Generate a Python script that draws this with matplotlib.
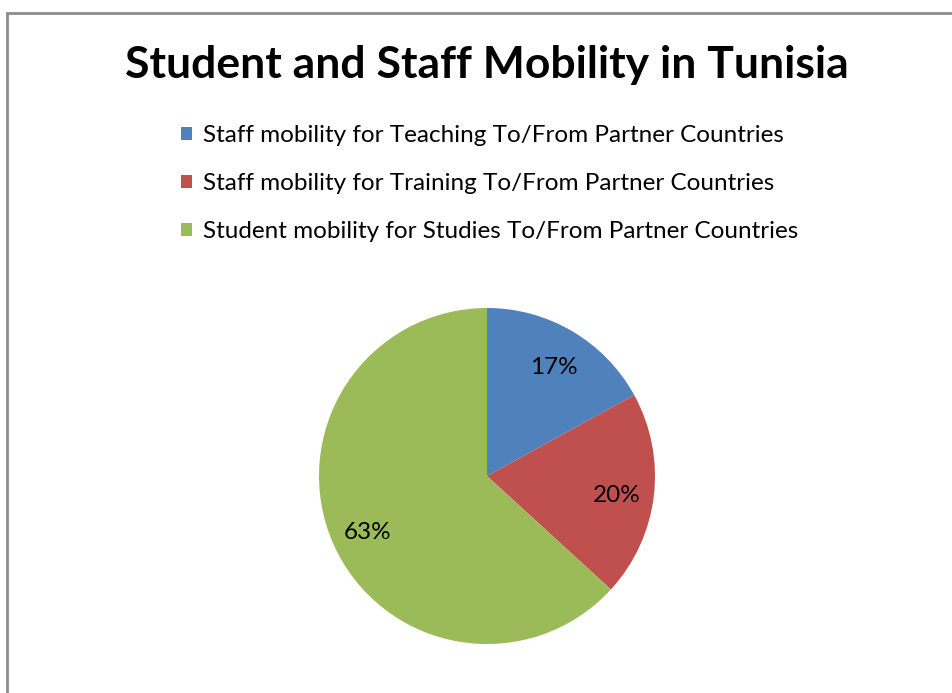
import matplotlib.pyplot as plt
from matplotlib.patches import Rectangle

# Dados do gráfico
categorias = [
    'Staff mobility for Teaching To/From Partner Countries',
    'Staff mobility for Training To/From Partner Countries',
    'Student mobility for Studies To/From Partner Countries',
]
valores = [17.0, 19.8, 63.2]
cores = ['#4f81bd', '#c0504d', '#9bbb59']

plt.rcParams['font.family'] = ['Lato', 'DejaVu Sans']

fig = plt.figure(figsize=(9.53, 6.93), dpi=100)

# Moldura cinza (cortada à direita e embaixo)
fig.patches.append(Rectangle((7.5 / 953, -0.05), 1.1, 1 - 12.5 / 693 + 0.05,
                             transform=fig.transFigure, fill=False,
                             edgecolor='#8c8c8c', linewidth=2))

# Título
fig.text(487 / 953, 1 - 65 / 693, 'Student and Staff Mobility in Tunisia',
         ha='center', va='center', fontsize=32, fontweight='bold')

# Pizza
raio = 168
cx, cy = 487, 476
ax = fig.add_axes([(cx - raio) / 953, 1 - (cy + raio) / 693, 2 * raio / 953, 2 * raio / 693])
wedges, textos, autotextos = ax.pie(valores, colors=cores, startangle=90, counterclock=False,
                                    autopct='%.0f%%', pctdistance=0.78,
                                    textprops={'fontsize': 17.5})
# rótulos um pouco mais baixos, como no original
for t in autotextos:
    t.set_y(t.get_position()[1] - 0.025)
ax.set_xlim(-1, 1)
ax.set_ylim(-1, 1)
ax.set_aspect('equal')
ax.axis('off')

# Legenda
fig.legend(wedges, categorias, loc='upper left', bbox_to_anchor=(181 / 953, 1 - 125 / 693),
           frameon=False, fontsize=17.5, handlelength=0.45, handleheight=0.45,
           handletextpad=0.45, labelspacing=1.12, borderpad=0, borderaxespad=0)

fig.savefig('out.png', dpi=100)
